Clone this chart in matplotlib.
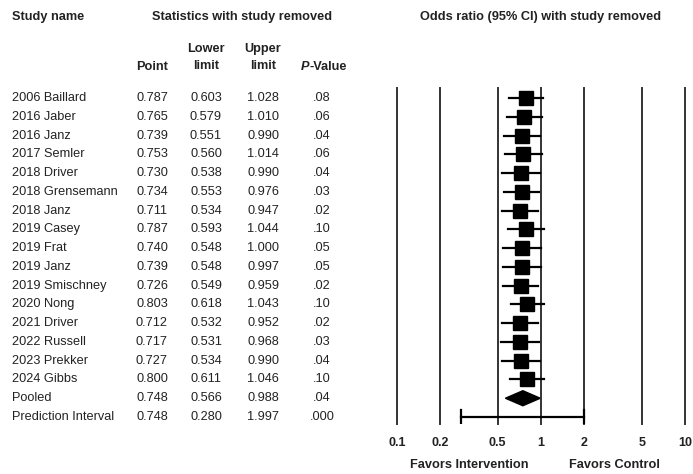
import matplotlib.pyplot as plt
from matplotlib.transforms import blended_transform_factory
from matplotlib.patches import Polygon
import numpy as np

plt.rcParams['font.family'] = ['Liberation Sans', 'DejaVu Sans']

studies = ["2006 Baillard", "2016 Jaber", "2016 Janz", "2017 Semler", "2018 Driver",
           "2018 Grensemann", "2018 Janz", "2019 Casey", "2019 Frat", "2019 Janz",
           "2019 Smischney", "2020 Nong", "2021 Driver", "2022 Russell", "2023 Prekker",
           "2024 Gibbs", "Pooled", "Prediction Interval"]
point = [0.787, 0.765, 0.739, 0.753, 0.730, 0.734, 0.711, 0.787, 0.740, 0.739,
         0.726, 0.803, 0.712, 0.717, 0.727, 0.800, 0.748, 0.748]
lower = [0.603, 0.579, 0.551, 0.560, 0.538, 0.553, 0.534, 0.593, 0.548, 0.548,
         0.549, 0.618, 0.532, 0.531, 0.534, 0.611, 0.566, 0.280]
upper = [1.028, 1.010, 0.990, 1.014, 0.990, 0.976, 0.947, 1.044, 1.000, 0.997,
         0.959, 1.043, 0.952, 0.968, 0.990, 1.046, 0.988, 1.997]
pvals = [".08", ".06", ".04", ".06", ".04", ".03", ".02", ".10", ".05", ".05",
         ".02", ".10", ".02", ".03", ".04", ".10", ".04", ".000"]
ticks = [0.1, 0.2, 0.5, 1, 2, 5, 10]
tick_labels = ["0.1", "0.2", "0.5", "1", "2", "5", "10"]

W, H = 693, 474
fig = plt.figure(figsize=(W / 100, H / 100), dpi=100)

def fx(px):
    return px / W

def fy(py):
    return 1 - py / H

# forest axes: x 397..685 px, y 88..424 px, rows from 98 to 417
top, bot, r0, r1 = 88, 424, 98, 417
ax = fig.add_axes([fx(397), fy(bot), fx(685) - fx(397), (bot - top) / H])
ax.set_xscale("log")
ax.set_xlim(0.1, 10)
row_h = (r1 - r0) / 17
ax.set_ylim(17 + (bot - r1) / row_h, -(r0 - top) / row_h)
for s in ax.spines.values():
    s.set_visible(False)
ax.set_yticks([])
ax.set_xticks(ticks)
ax.set_xticklabels(tick_labels, fontweight="bold", fontsize=9)
ax.xaxis.set_minor_locator(plt.NullLocator())
ax.tick_params(axis="x", length=0, pad=9, colors="#222222")

for t in ticks:
    ax.axvline(t, color="#333333", lw=1.4, clip_on=False)

n_studies = len(studies) - 2
for i in range(n_studies):
    ax.plot([lower[i], upper[i]], [i, i], color="black", lw=1.6)
    ax.plot(point[i], i, marker="s", color="black", markersize=10)

# pooled diamond
i = n_studies
ax.add_patch(Polygon([(lower[i], i), (point[i], i - 0.4), (upper[i], i), (point[i], i + 0.4)],
                     closed=True, color="black"))

# prediction interval
i = n_studies + 1
ax.plot([lower[i], upper[i]], [i, i], color="black", lw=1.6)
ax.plot([lower[i], lower[i]], [i - 0.35, i + 0.35], color="black", lw=1.6)
ax.plot([upper[i], upper[i]], [i - 0.35, i + 0.35], color="black", lw=1.6)

# table text
tr = blended_transform_factory(fig.transFigure, ax.transData)
fs = 9.2
tc = "#222222"
for i, name in enumerate(studies):
    ax.text(fx(12), i, name, transform=tr, ha="left", va="center", fontsize=fs, color=tc)
    ax.text(fx(152), i, f"{point[i]:.3f}", transform=tr, ha="center", va="center", fontsize=fs, color=tc)
    ax.text(fx(206), i, f"{lower[i]:.3f}", transform=tr, ha="center", va="center", fontsize=fs, color=tc)
    ax.text(fx(263), i, f"{upper[i]:.3f}", transform=tr, ha="center", va="center", fontsize=fs, color=tc)
    ax.text(fx(322), i, pvals[i], transform=tr, ha="center", va="center", fontsize=fs, color=tc)

# headers
hb = dict(fontsize=9.2, fontweight="bold", color=tc, va="center")
fig.text(fx(12), fy(17), "Study name", ha="left", **hb)
fig.text(fx(242), fy(17), "Statistics with study removed", ha="center", **hb)
fig.text(fx(541), fy(17), "Odds ratio (95% CI) with study removed", ha="center", **hb)
fig.text(fx(152), fy(67), "Point", ha="center", **hb)
fig.text(fx(206), fy(57.5), "Lower\nlimit", ha="center", linespacing=1.45, **hb)
fig.text(fx(263), fy(57.5), "Upper\nlimit", ha="center", linespacing=1.45, **hb)
fig.text(fx(309), fy(67), "P", ha="right", fontstyle="italic", **hb)
fig.text(fx(309), fy(67), "-Value", ha="left", **hb)

fig.text(fx(469), fy(465), "Favors Intervention", ha="center", **hb)
fig.text(fx(614), fy(465), "Favors Control", ha="center", **hb)

fig.savefig("out.png", dpi=100)
